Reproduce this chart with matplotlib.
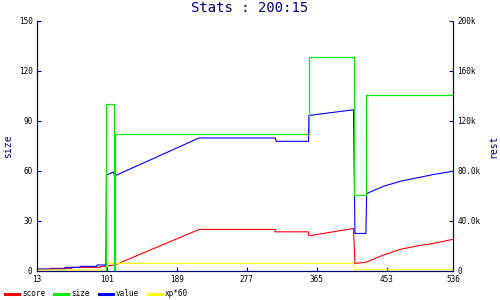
import matplotlib
matplotlib.use('Agg')
import matplotlib.pyplot as plt

# values (x = time index)
size_x = [13, 100, 100, 110, 110, 111.5, 111.5, 355, 355, 411.5, 411.5, 427, 427, 536]
size_y = [0, 0, 100, 100, 0, 0, 82, 82, 128, 128, 45.4, 45.4, 105.6, 105.6]

# score, value and xp*60 go on the right ("rest") axis
score_x = [13, 29.7, 29.7, 57, 57, 92.6, 92.6, 101, 111, 217, 312.6, 312.6, 354.5, 355,
           411, 412.8, 426, 448.8, 469.8, 490.7, 511.6, 536]
score_y = [1300, 1300, 2100, 2100, 2900, 2900, 3500, 4000, 4800, 33200, 33200, 31300,
           31300, 28100, 34000, 6100, 6900, 12800, 17300, 20000, 22100, 25300]

value_x = [13, 48.6, 48.6, 67.4, 67.4, 88.8, 88.8, 100, 100.5, 109, 111, 217, 312.6, 313.9,
           354.5, 355, 411, 412.8, 426.6, 427.5, 448.8, 469.8, 490.7, 511.6, 536]
value_y = [1600, 1600, 2900, 2900, 3700, 3700, 4800, 4800, 76500, 79100, 76000, 106300,
           106300, 103600, 103600, 124300, 128800, 30000, 30000, 61900, 67700, 71700,
           74400, 77100, 79700]

xp_x = [13, 100, 102, 411, 412, 536]
xp_y = [800, 800, 6100, 6100, 1000, 1000]

x_ticks = [13, 101, 189, 277, 365, 453, 536]
left_ticks = [0, 30, 60, 90, 120, 150]
right_ticks = [0, 40000, 80000, 120000, 160000, 200000]
right_labels = ['0', '40.0k', '80.0k', '120k', '160k', '200k']

navy = '#000080'
plt.rcParams['font.family'] = 'DejaVu Sans Mono'

fig = plt.figure(figsize=(5, 3), dpi=100)
ax = fig.add_axes([0.0734, 0.0967, 0.8326, 0.8343])
ax2 = ax.twinx()

lw = 0.8
l1, = ax2.plot(score_x, score_y, color='#ff0000', lw=lw, label='score')
l2, = ax.plot(size_x, size_y, color='#00ee00', lw=lw, label='size')
l3, = ax2.plot(value_x, value_y, color='#0000ff', lw=lw, label='value')
l4, = ax2.plot(xp_x, xp_y, color='#ffff00', lw=lw, label='xp*60')
# size drawn on top of the rest, as in the reference
ax2.plot(size_x, [v * 4000 / 3 for v in size_y], color='#00ee00', lw=lw)

ax.set_xlim(13, 536)
ax.set_ylim(0, 150)
ax2.set_ylim(0, 200000)
ax.set_xticks(x_ticks)
ax.set_yticks(left_ticks)
ax2.set_yticks(right_ticks)
ax2.set_yticklabels(right_labels)

for a in (ax, ax2):
    a.spines['top'].set_visible(False)
    for s in ('left', 'right', 'bottom'):
        a.spines[s].set_color(navy)
        a.spines[s].set_linewidth(0.8)
    a.tick_params(direction='in', length=3, width=0.8, color=navy,
                  labelsize=5.5, labelcolor='black', pad=3)

ax.set_ylabel('size', color=navy, fontsize=7, labelpad=4)
ax2.set_ylabel('rest', color=navy, fontsize=7, rotation=90, labelpad=6)
fig.suptitle('Stats : 200:15', color=navy, fontsize=10, y=0.995)

leg = fig.legend(handles=[l1, l2, l3, l4], loc='center left', bbox_to_anchor=(0.0, 0.02),
                 ncol=4, frameon=False, fontsize=5.5, handlelength=1.8,
                 handletextpad=0.4, columnspacing=1.2, borderpad=0.2)
for h in leg.get_lines():
    h.set_linewidth(2.2)

fig.savefig('out.png', dpi=100)
